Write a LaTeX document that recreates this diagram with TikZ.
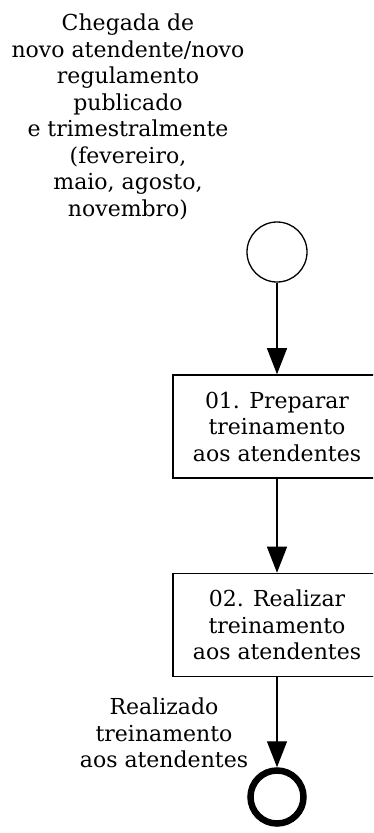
\documentclass[tikz,border=0pt]{standalone}
\usepackage{fontspec}
\setmainfont{DejaVu Serif}
\usetikzlibrary{arrows.meta}

\tikzset{
  task/.style={draw,line width=1.6pt,minimum width=208pt,minimum height=103pt,
               align=center,inner sep=0pt},
  flow/.style={-{Triangle[length=26pt,width=20pt]},line width=1.3pt},
  note/.style={align=center,inner sep=0pt}
}

\begin{document}
\begin{tikzpicture}[x=1pt,y=-1pt,font=\fontsize{22}{26.5}\selectfont]
\useasboundingbox (0,0) rectangle (373,833);
\clip (0,0) rectangle (373,833);

% event labels
\node[note] (trigger) at (128,117) {Chegada de\\novo atendente/novo\\regulamento\\publicado\\e trimestralmente\\(fevereiro,\\maio, agosto,\\novembro)};
\node[note] (done) at (164,733) {Realizado\\treinamento\\aos atendentes};

% start and end events
\node[circle,draw,line width=1.3pt,minimum size=60pt,inner sep=0pt] (start) at (277,252) {};
\node[circle,draw,line width=6.5pt,minimum size=53pt,inner sep=0pt] (stop) at (277,797) {};

% tasks
\node[task] (prep) at (277,426.5) {01. Preparar\\treinamento\\aos atendentes};
\node[task] (train) at (277,625) {02. Realizar\\treinamento\\aos atendentes};

\draw[flow] (start) -- (prep);
\draw[flow] (prep) -- (train);
\draw[flow] (train) -- (stop);
\end{tikzpicture}
\end{document}
